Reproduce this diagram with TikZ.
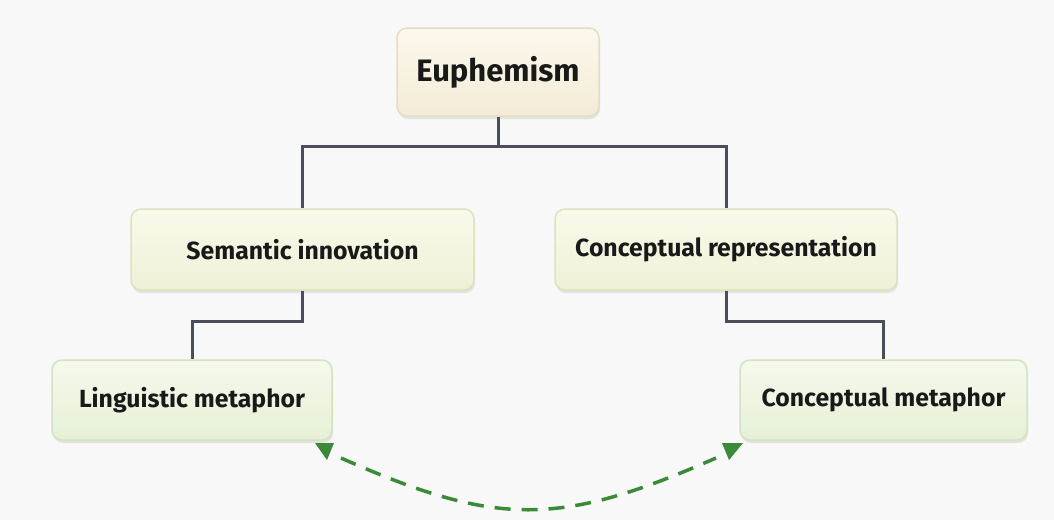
\documentclass[tikz,border=0pt]{standalone}
\usepackage{fontspec}
\setmainfont{Fira Sans}
\usetikzlibrary{arrows.meta,shadows}
\definecolor{bg}{HTML}{F8F8F8}
\definecolor{conn}{HTML}{4A4E5A}
\definecolor{dgreen}{HTML}{3A8A3A}
\definecolor{euT}{HTML}{FCF8EC}
\definecolor{euB}{HTML}{F3EBD6}
\definecolor{euD}{HTML}{E6DCC0}
\definecolor{midT}{HTML}{F9F9EA}
\definecolor{midB}{HTML}{EEF1D6}
\definecolor{midD}{HTML}{DCE2BF}
\definecolor{lowT}{HTML}{F5F9EC}
\definecolor{lowB}{HTML}{E6F0D6}
\definecolor{lowD}{HTML}{D3E2C0}
\tikzset{
  box/.style={rounded corners=10pt, line width=1.5pt, align=center,
    text=black!90,
    drop shadow={opacity=0.18, shadow xshift=1pt, shadow yshift=-3pt}},
  toplvl/.style={box, draw=euD, top color=euT, bottom color=euB, font=\fontsize{31}{35}\selectfont\bfseries},
  midlvl/.style={box, draw=midD, top color=midT, bottom color=midB, font=\fontsize{24.8}{28}\selectfont\bfseries},
  lowlvl/.style={box, draw=lowD, top color=lowT, bottom color=lowB, font=\fontsize{24.8}{28}\selectfont\bfseries},
  link/.style={draw=conn, line width=3pt},
  dashlink/.style={draw=dgreen, line width=3.5pt, dash pattern=on 16pt off 11pt},
  tiphead/.style={fill=dgreen}
}
\begin{document}
\begin{tikzpicture}[x=1pt,y=-1pt]
\fill[bg] (0,0) rectangle (1054,520);
\useasboundingbox (0,0) rectangle (1054,520);
\node[toplvl, minimum width=202pt, minimum height=88pt] (eu) at (498,72) {Euphemism};
\node[midlvl, minimum width=343pt, minimum height=81pt] (si) at (302.5,249.5) {Semantic innovation};
\node[midlvl, minimum width=342pt, minimum height=81pt] (cr) at (726,249.5) {Conceptual representation};
\node[lowlvl, minimum width=280pt, minimum height=80pt] (lm) at (192,400) {Linguistic metaphor};
\node[lowlvl, minimum width=287pt, minimum height=80pt] (cm) at (883.5,400) {Conceptual metaphor};
\coordinate (j1) at (498,146);
\coordinate (j2) at (302.5,321);
\coordinate (j3) at (726,321);
\draw[link] (eu.south) -- (j1) -| (si.north);
\draw[link] (j1) -| (cr.north);
\draw[link] (si.south) -- (j2) -| (lm.north);
\draw[link] (cr.south) -- (j3) -| (cm.north);
% dashed double-headed connector between the two metaphor boxes
\coordinate (a1) at (341,458);
\coordinate (a2) at (716,458);
\coordinate (t1) at (327,460);
\coordinate (t2) at (729,460);
\draw[dashlink] (a1) .. controls (497,527) and (559,527) .. (a2);
\fill[tiphead] (t1) -- ++(-12,-17) -- ++(19,0) -- cycle;
\fill[tiphead] (t2) -- ++(-7,-17) -- ++(21,0) -- cycle;
\end{tikzpicture}
\end{document}
